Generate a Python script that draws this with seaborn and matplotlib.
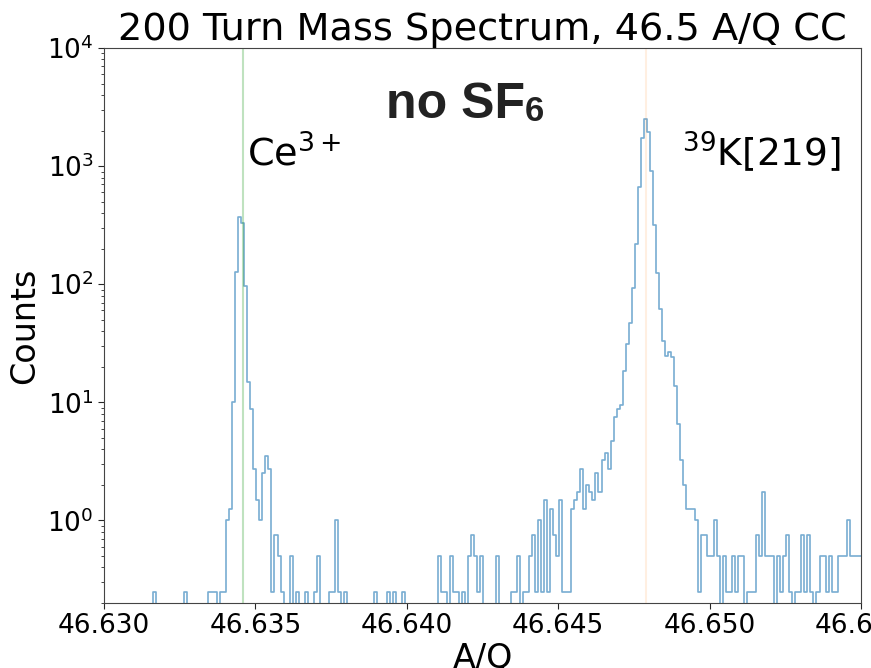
import matplotlib
matplotlib.use("Agg")
import matplotlib.pyplot as plt
import numpy as np
import pandas as pd
import seaborn as sns
from matplotlib.ticker import FormatStrFormatter

TITLE = "200 Turn Mass Spectrum, 46.5 A/Q CC"
X_LABEL = "A/Q"
Y_LABEL = "Counts"

# histogram: 250 bins of 1e-4 A/Q, counts
BIN_START = 46.63003
BIN_WIDTH = 0.0001
COUNTS = [
    0, 0, 0, 0, 0, 0, 0, 0, 0, 0,
    0, 0, 0, 0, 0, 0, .25, 0, 0, 0,
    0, 0, 0, 0, 0, 0, .25, 0, 0, 0,
    0, 0, 0, 0, .25, .25, .25, 0, .25, .25,
    1, 1.25, 10, 127, 372, 327, 96, 15, 8.75, 2.75,
    1.5, 1, 2.5, 3.5, 2.75, .25, .75, .5, .25, 0,
    0, .5, 0, .25, 0, 0, .25, 0, 0, .25,
    .5, 0, 0, 0, .25, .25, 1, .25, 0, .25,
    0, 0, 0, 0, 0, 0, 0, 0, 0, .25,
    0, 0, 0, .25, 0, .25, 0, 0, .25, 0,
    0, 0, 0, 0, 0, 0, 0, 0, 0, 0,
    .5, .25, .25, 0, .5, .25, .25, 0, .25, 0,
    .5, .75, .5, .25, .5, 0, 0, 0, 0, .5,
    0, 0, 0, 0, .25, .25, .5, 0, .25, .25,
    .5, .75, .25, 1, .25, 1.5, .25, 1.25, .75, .5,
    1.5, .25, .25, .25, 1.25, 1.5, 1.75, 2.75, 1.25, 2,
    1.75, 1.5, 2.5, 1.75, 3.25, 3.75, 2.75, 4.75, 7.5, 8.75,
    9.5, 18.25, 31, 47, 92, 217, 668, 1738, 2490, 1950,
    907, 316, 125, 62, 33, 24.5, 26.75, 24, 13.75, 6.5,
    3.25, 2, 1.25, 1.25, 1.25, 1, .25, .75, .75, .5,
    .5, 1, .5, 0, .5, .25, .25, .5, .25, .5,
    .5, 0, .25, .25, .25, .75, .5, 1.75, .5, .5,
    .5, 0, .5, .25, .5, .75, .25, 0, .25, .25,
    .75, .25, .75, .25, 0, .25, .5, .5, .25, .5,
    .25, .25, .5, .5, .5, 1, .5, .5, .5, .5,
]

CE_LINE = 46.63458
K_LINE = 46.64789
CE_LABEL = r"Ce$^{3+}$"
K_LABEL = r"$^{39}$K[219]"
LABEL_Y = 1000
X_TICKS = [46.630, 46.635, 46.640, 46.645, 46.650, 46.655]

n_bins = len(COUNTS)
bin_end = BIN_START + BIN_WIDTH * n_bins
centers = BIN_START + BIN_WIDTH * (np.arange(n_bins) + 0.5)
df = pd.DataFrame({"aq": centers, "counts": COUNTS})

sns.set_theme(style="ticks")
plt.rcParams["font.family"] = ["DejaVu Sans"]
plt.rcParams["text.color"] = "black"
plt.rcParams["axes.labelcolor"] = "black"

fig = plt.figure(figsize=(8.71, 6.68), dpi=100)
ax = fig.add_axes([104 / 871, 65 / 668, 757 / 871, 555 / 668])

sns.histplot(data=df, x="aq", weights="counts", bins=n_bins,
             binrange=(BIN_START, bin_end), element="step", fill=False,
             color="tab:blue", alpha=0.6, linewidth=1.2, ax=ax)
ax.axvline(CE_LINE, color="tab:green", alpha=0.3, linewidth=1.5)
ax.axvline(K_LINE, color="tab:orange", alpha=0.12, linewidth=1.5)

ax.set_yscale("log")
ax.set_ylim(0.2, 1e4)
ax.set_xlim(X_TICKS[0], X_TICKS[-1])
ax.set_xticks(X_TICKS)
ax.xaxis.set_major_formatter(FormatStrFormatter("%.3f"))

ax.text(CE_LINE + 0.00013, LABEL_Y, CE_LABEL, fontsize=27.5)
ax.text(46.6491, LABEL_Y, K_LABEL, fontsize=27)

t = ax.text(0.3725, 0.874, "no SF", transform=ax.transAxes, fontsize=36,
            fontweight="bold", family=["Liberation Sans", "DejaVu Sans"],
            color="#222222", va="baseline")
ax.annotate("6", xy=(1, 0), xycoords=t, va="bottom", ha="left", fontsize=25,
            fontweight="bold", family=["Liberation Sans", "DejaVu Sans"],
            color="#222222")

ax.set_title(TITLE, fontsize=27.5)
ax.set_xlabel(X_LABEL, fontsize=24, labelpad=2)
ax.set_ylabel(Y_LABEL, fontsize=24)
ax.tick_params(axis="both", which="major", labelsize=19, length=4, width=0.8,
               labelcolor="black")
ax.tick_params(axis="both", which="minor", length=2, width=0.6)
for s in ax.spines.values():
    s.set_linewidth(0.8)
    s.set_color("#444444")

fig.savefig("out.png", dpi=100)
